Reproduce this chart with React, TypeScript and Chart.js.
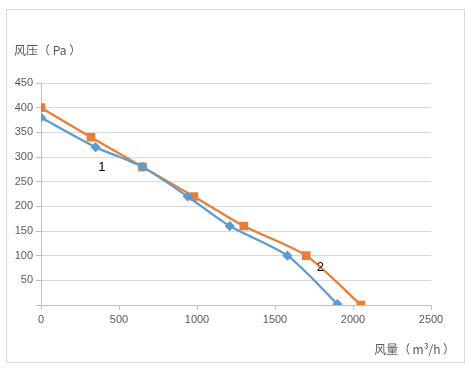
import React, { useEffect, useRef } from "react";
import { Chart, registerables } from "chart.js";

Chart.register(...registerables);

const curve1X = [0, 350, 650, 940, 1210, 1580, 1900];
const curve1Y = [380, 320, 280, 220, 160, 100, 2];
const curve2X = [0, 320, 650, 980, 1300, 1700, 2050];
const curve2Y = [400, 340, 280, 220, 160, 100, 0];
const xTicks = [0, 500, 1000, 1500, 2000, 2500];
const yTicks = [0, 50, 100, 150, 200, 250, 300, 350, 400, 450];
const curveLabels = ["1", "2"];
const curveLabelX = [390, 1790];
const curveLabelY = [278, 77];
const yTitle = "风压（ Pa ）";
const xTitle = "风量（\u2009m³/h\u2009）";

export default function App() {
  const ref = useRef<HTMLCanvasElement | null>(null);
  useEffect(() => {
    document.body.style.margin = "0";
    const canvas = ref.current!;
    const annot = {
      id: "annot",
      afterDraw(chart: any) {
        const ctx = chart.ctx;
        const xs = chart.scales.x;
        const ys = chart.scales.y;
        ctx.save();
        ctx.strokeStyle = "#d9d9d9";
        ctx.lineWidth = 1;
        ctx.strokeRect(6.5, 9.5, 458, 353);
        ctx.fillStyle = "#000000";
        ctx.font = "13px 'Liberation Sans', sans-serif";
        ctx.textAlign = "center";
        ctx.textBaseline = "middle";
        curveLabels.forEach((t, i) => {
          ctx.fillText(t, xs.getPixelForValue(curveLabelX[i]), ys.getPixelForValue(curveLabelY[i]));
        });
        ctx.fillStyle = "#595959";
        ctx.font = "12px 'Noto Sans CJK SC', sans-serif";
        ctx.textAlign = "left";
        ctx.fillText(yTitle, 14, 50);
        ctx.textAlign = "right";
        ctx.fillText(xTitle, 455, 349);
        ctx.restore();
      },
    };
    const chart = new Chart(canvas, {
      type: "line",
      data: {
        datasets: [
          {
            label: "1",
            data: curve1X.map((x, i) => ({ x, y: curve1Y[i] })),
            borderColor: "#5B9BD5",
            backgroundColor: "#5B9BD5",
            borderWidth: 2.25,
            pointStyle: "rectRot",
            pointRadius: 3.5,
            tension: 0.25,
          },
          {
            label: "2",
            data: curve2X.map((x, i) => ({ x, y: curve2Y[i] })),
            borderColor: "#ED7D31",
            backgroundColor: "#ED7D31",
            borderWidth: 2.25,
            pointStyle: "rect",
            pointRadius: 4.5,
            tension: 0.25,
          },
        ],
      },
      options: {
        animation: false,
        responsive: false,
        events: [],
        layout: { padding: { left: 0, top: 83, right: 40, bottom: 0 } },
        plugins: { legend: { display: false }, tooltip: { enabled: false } },
        scales: {
          x: {
            type: "linear",
            min: 0,
            max: 2500,
            afterBuildTicks: (s: any) => {
              s.ticks = xTicks.map((v) => ({ value: v }));
            },
            afterFit: (s: any) => {
              s.height = 64;
            },
            grid: { drawOnChartArea: false, drawTicks: true, tickLength: 5, tickColor: "#bfbfbf" },
            border: { color: "#bfbfbf", width: 1 },
            ticks: {
              color: "#595959",
              font: { family: "'Liberation Sans', sans-serif", size: 11 },
              padding: 3,
              maxRotation: 0,
              callback: (v: any) => String(v),
            },
          },
          y: {
            type: "linear",
            min: 0,
            max: 450,
            afterBuildTicks: (s: any) => {
              s.ticks = yTicks.map((v) => ({ value: v }));
            },
            afterFit: (s: any) => {
              s.width = 41;
            },
            grid: { color: "#d9d9d9", drawTicks: true, tickLength: 5, tickColor: "#bfbfbf" },
            border: { color: "#bfbfbf", width: 1 },
            ticks: {
              color: "#595959",
              font: { family: "'Liberation Sans', sans-serif", size: 11 },
              padding: 3,
              callback: (v: any) => (v === 0 ? "" : String(v)),
            },
          },
        },
      },
      plugins: [annot],
    });
    return () => chart.destroy();
  }, []);
  return (
    <div style={{ width: 471, height: 369, position: "relative", background: "#fff" }}>
      <canvas ref={ref} width={471} height={369} style={{ display: "block" }} />
    </div>
  );
}
